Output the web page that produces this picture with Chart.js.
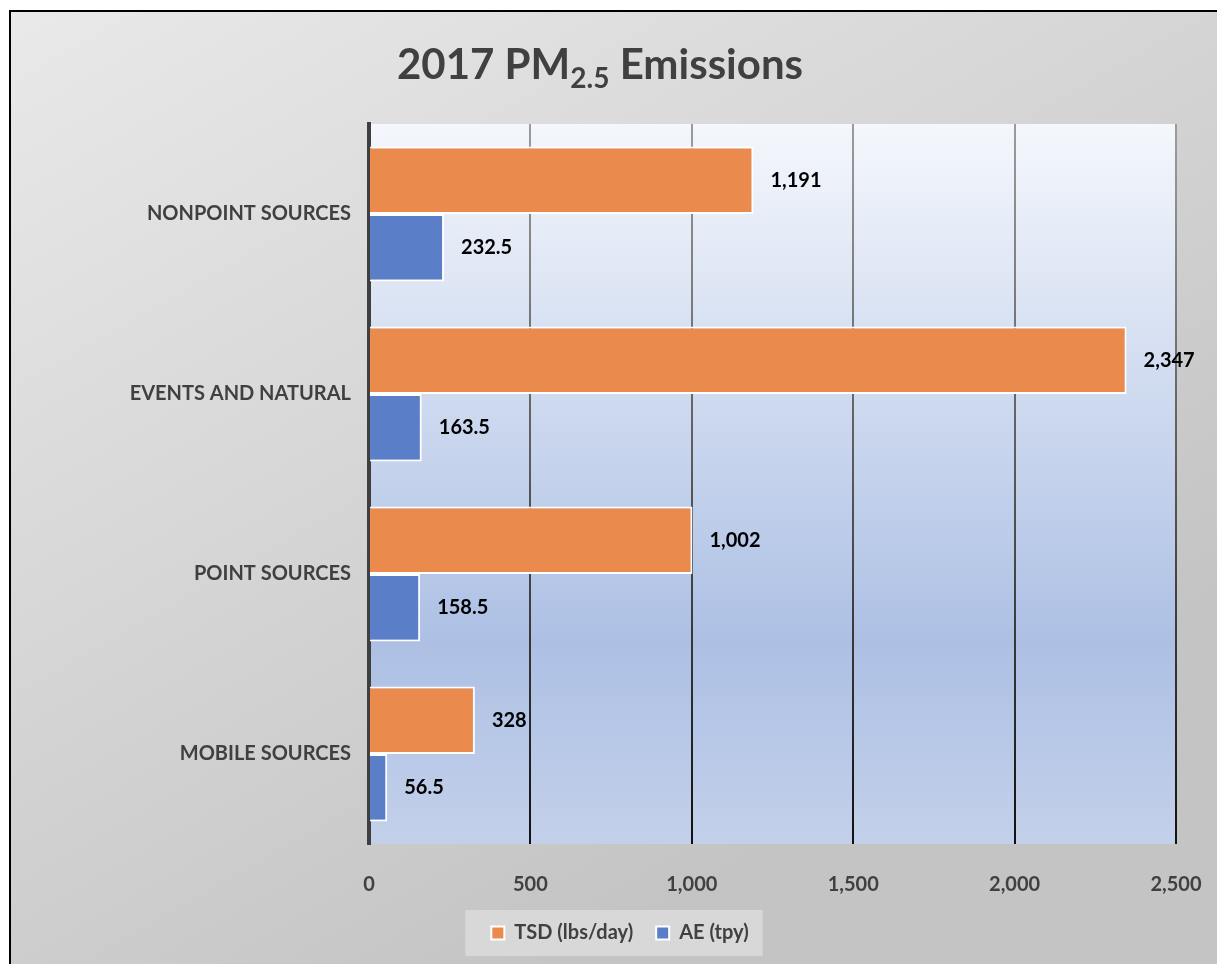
<!DOCTYPE html>
<html>
<head>
<meta charset="utf-8">
<script src="https://cdn.jsdelivr.net/npm/chart.js@4"></script>
<style>
body{margin:0;background:#fff;overflow:hidden;}
#marco{position:absolute;left:9px;top:10px;border-left:2px solid #000;border-top:2px solid #000;}
canvas{display:block;}
</style>
</head>
<body>
<div id="marco"><canvas id="graficoPM" width="1206" height="952"></canvas></div>
<script>
// Datos
const categorias = ['NONPOINT SOURCES', 'EVENTS AND NATURAL', 'POINT SOURCES', 'MOBILE SOURCES'];
const valoresTSD = [1191, 2347, 1002, 328];   // TSD (lbs/day)
const valoresAE = [232.5, 163.5, 158.5, 56.5]; // AE (tpy)
const ticksX = [0, 500, 1000, 1500, 2000, 2500];
const nombresSeries = ['TSD (lbs/day)', 'AE (tpy)'];

const fuente = 'Lato';
const grisTexto = '#404040';

//Fondo gris del gráfico y degradado azul del área de trazado.
const fondos = {
  id: 'fondos',
  beforeDraw(chart){
    const ctx = chart.ctx;
    const w = chart.width, h = chart.height;
    let g = ctx.createLinearGradient(0, 0, w * 0.45, h);
    g.addColorStop(0, '#e9e9e9');
    g.addColorStop(1, '#c4c4c4');
    ctx.save();
    ctx.fillStyle = g;
    ctx.fillRect(0, 0, w, h);

    const a = chart.chartArea;
    let g2 = ctx.createLinearGradient(0, a.top, 0, a.bottom);
    g2.addColorStop(0, '#f4f7fc');
    g2.addColorStop(0.72, '#adc0e4');
    g2.addColorStop(1, '#c3d0ea');
    ctx.fillStyle = g2;
    ctx.fillRect(a.left, a.top, a.right - a.left, a.bottom - a.top);

    //Recuadro claro detrás de la leyenda.
    const cajas = chart.legend.legendHitBoxes;
    if (cajas && cajas.length){
      const primera = cajas[0], ultima = cajas[cajas.length - 1];
      const x1 = primera.left - 26, x2 = ultima.left + ultima.width + 14;
      const yc = primera.top + primera.height / 2;
      ctx.fillStyle = '#d8d8d8';
      ctx.fillRect(x1, yc - 23, x2 - x1, 46);
    }
    ctx.restore();
  }
};

//Título con subíndice (PM2.5).
const titulo = {
  id: 'titulo',
  afterDraw(chart){
    const ctx = chart.ctx;
    const partes = [
      {t: '2017 PM', f: 'bold 42px ' + fuente, dy: 0},
      {t: '2.5', f: 'bold 28px ' + fuente, dy: 9},
      {t: ' Emissions', f: 'bold 42px ' + fuente, dy: 0}
    ];
    ctx.save();
    ctx.fillStyle = grisTexto;
    ctx.textBaseline = 'alphabetic';
    ctx.textAlign = 'left';
    let total = 0;
    for (const p of partes){ ctx.font = p.f; p.w = ctx.measureText(p.t).width; total += p.w; }
    let x = 589 - total / 2;
    const base = 67;
    for (const p of partes){
      ctx.font = p.f;
      ctx.fillText(p.t, x, base + p.dy);
      x += p.w;
    }
    ctx.restore();
  }
};

//Etiquetas de valor al final de cada barra.
const etiquetas = {
  id: 'etiquetas',
  afterDatasetsDraw(chart){
    const ctx = chart.ctx;
    ctx.save();
    ctx.font = 'bold 20px ' + fuente;
    ctx.fillStyle = '#000';
    ctx.textAlign = 'left';
    ctx.textBaseline = 'middle';
    chart.data.datasets.forEach(function(ds, i){
      const meta = chart.getDatasetMeta(i);
      meta.data.forEach(function(barra, j){
        const v = ds.data[j];
        const texto = i === 0 ? v.toLocaleString('en-US') : v.toFixed(1);
        ctx.fillText(texto, barra.x + 17, barra.y);
      });
    });
    ctx.restore();
  }
};

const ctx = document.getElementById('graficoPM').getContext('2d');
const graficoPM = new Chart(ctx, {
  type: 'bar',
  data: {
    labels: categorias,
    datasets: [
      {label: nombresSeries[0], data: valoresTSD, backgroundColor: '#ea8b4d', borderColor: '#ffffff', borderWidth: 2},
      {label: nombresSeries[1], data: valoresAE, backgroundColor: '#5a7fc8', borderColor: '#ffffff', borderWidth: 2}
    ]
  },
  options: {
    indexAxis: 'y',
    responsive: false,
    animation: false,
    categoryPercentage: 0.75,
    barPercentage: 1.0,
    layout: {padding: {top: 112, right: 41, left: 53, bottom: 11}},
    scales: {
      x: {
        min: ticksX[0],
        max: ticksX[ticksX.length - 1],
        afterBuildTicks(scale){ scale.ticks = ticksX.map(v => ({value: v})); },
        afterFit(scale){
          scale.height = 56;
          scale.paddingLeft = 0;
          scale.paddingRight = 0;
        },
        ticks: {
          color: grisTexto,
          font: {family: fuente, size: 20, weight: 'bold'},
          padding: 29,
          callback: v => v.toLocaleString('en-US')
        },
        grid: {
          drawTicks: false,
          lineWidth: 2,
          color(c){
            if (c.tick && c.tick.value === 0) return 'rgba(0,0,0,0)';
            const a = c.chart.chartArea;
            if (!a) return '#888';
            const g = c.chart.ctx.createLinearGradient(0, a.top, 0, a.bottom);
            g.addColorStop(0, '#9c9c9c');
            g.addColorStop(1, '#111111');
            return g;
          }
        },
        border: {display: false}
      },
      y: {
        afterFit(scale){ scale.width = 305; },
        ticks: {
          color: grisTexto,
          font: {family: fuente, size: 20, weight: 'bold'},
          padding: 18
        },
        grid: {display: false, drawTicks: false},
        border: {display: true, color: '#3f3f3f', width: 4}
      }
    },
    plugins: {
      title: {display: false},
      tooltip: {enabled: false},
      legend: {
        position: 'bottom',
        labels: {
          color: grisTexto,
          font: {family: fuente, size: 20, weight: 'bold'},
          boxWidth: 13,
          boxHeight: 13,
          padding: 23
        }
      }
    }
  },
  plugins: [fondos, titulo, etiquetas]
});
</script>
</body>
</html>
